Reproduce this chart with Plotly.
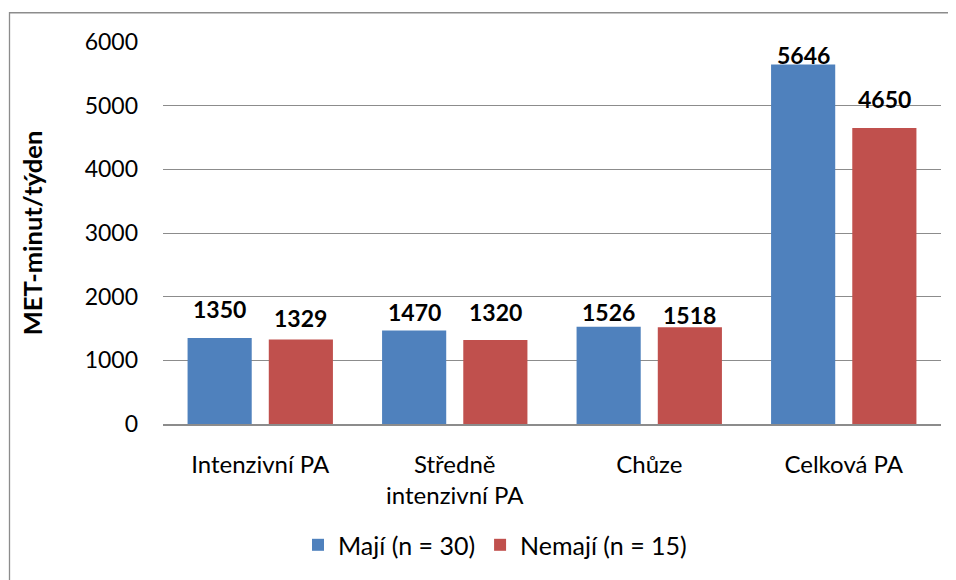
import plotly.graph_objects as go

categories = ["Intenzivní PA", "Středně<br>intenzivní PA", "Chůze", "Celková PA"]
series_names = ["Mají (n = 30)", "Nemají (n = 15)"]
maji = [1350, 1470, 1526, 5646]
nemaji = [1329, 1320, 1518, 4650]
y_ticks = [0, 1000, 2000, 3000, 4000, 5000, 6000]

# label lift above bar top (px), as placed in the original chart
label_lift_maji = [29, 18, 15, 10]
label_lift_nemaji = [21, 28, 12, 29]

FONT = "Lato, 'Open Sans', sans-serif"
OFF = 8  # page body margin
W, H = 956 - OFF, 580 - OFF
L, T = 163 - OFF, 42 - OFF
R = W - (941 - OFF)
B = H - (427 - OFF)
pw, ph = W - L - R, H - T - B

def px_x(p):
    return (p - OFF - L) / pw

def px_y(p):
    return (H - B - (p - OFF)) / ph

fig = go.Figure()
annotations = []
for name, vals, col, lifts, xs in [(series_names[0], maji, "#4F81BD", label_lift_maji, -40.5),
                                   (series_names[1], nemaji, "#C0504D", label_lift_nemaji, 40.5)]:
    fig.add_trace(go.Bar(
        x=categories, y=vals, name=name, marker=dict(color=col, line=dict(width=0)),
    ))
    for c, v, lf in zip(categories, vals, lifts):
        annotations.append(dict(x=c, y=v, xref="x", yref="y", text="<b>%d</b>" % v, showarrow=False,
                                xanchor="center", yanchor="middle", xshift=xs, yshift=lf,
                                font=dict(family=FONT, size=23, color="black")))

fig.update_layout(
    width=W, height=H, autosize=False,
    margin=dict(l=L, r=R, t=T, b=B),
    paper_bgcolor="white", plot_bgcolor="white",
    barmode="group", bargap=0.165, bargroupgap=0.21,
    font=dict(family=FONT, size=22, color="black"),
    showlegend=True,
    legend=dict(orientation="h", x=px_x(495), xanchor="center", y=px_y(549), yanchor="middle",
                font=dict(size=25), itemwidth=30, traceorder="normal"),
    yaxis=dict(range=[0, 6000], tickvals=y_ticks, showgrid=True, gridcolor="#8C8C8C", gridwidth=1.3,
               zeroline=False, showline=False, ticklabelstandoff=24, tickfont=dict(size=23),
               title=dict(text="<b>MET-minut/týden</b>", font=dict(size=25.5), standoff=34)),
    xaxis=dict(showline=True, linecolor="#8C8C8C", linewidth=1.5, ticks="", ticklabelstandoff=18,
               tickfont=dict(size=24)),
    annotations=annotations,
    shapes=[dict(type="rect", xref="paper", yref="paper", x0=px_x(9.5), x1=px_x(990), y0=px_y(620), y1=px_y(12.5),
                 line=dict(color="#8C8C8C", width=1.3), fillcolor="rgba(0,0,0,0)", layer="below")],
)
fig.write_html("out.html")
